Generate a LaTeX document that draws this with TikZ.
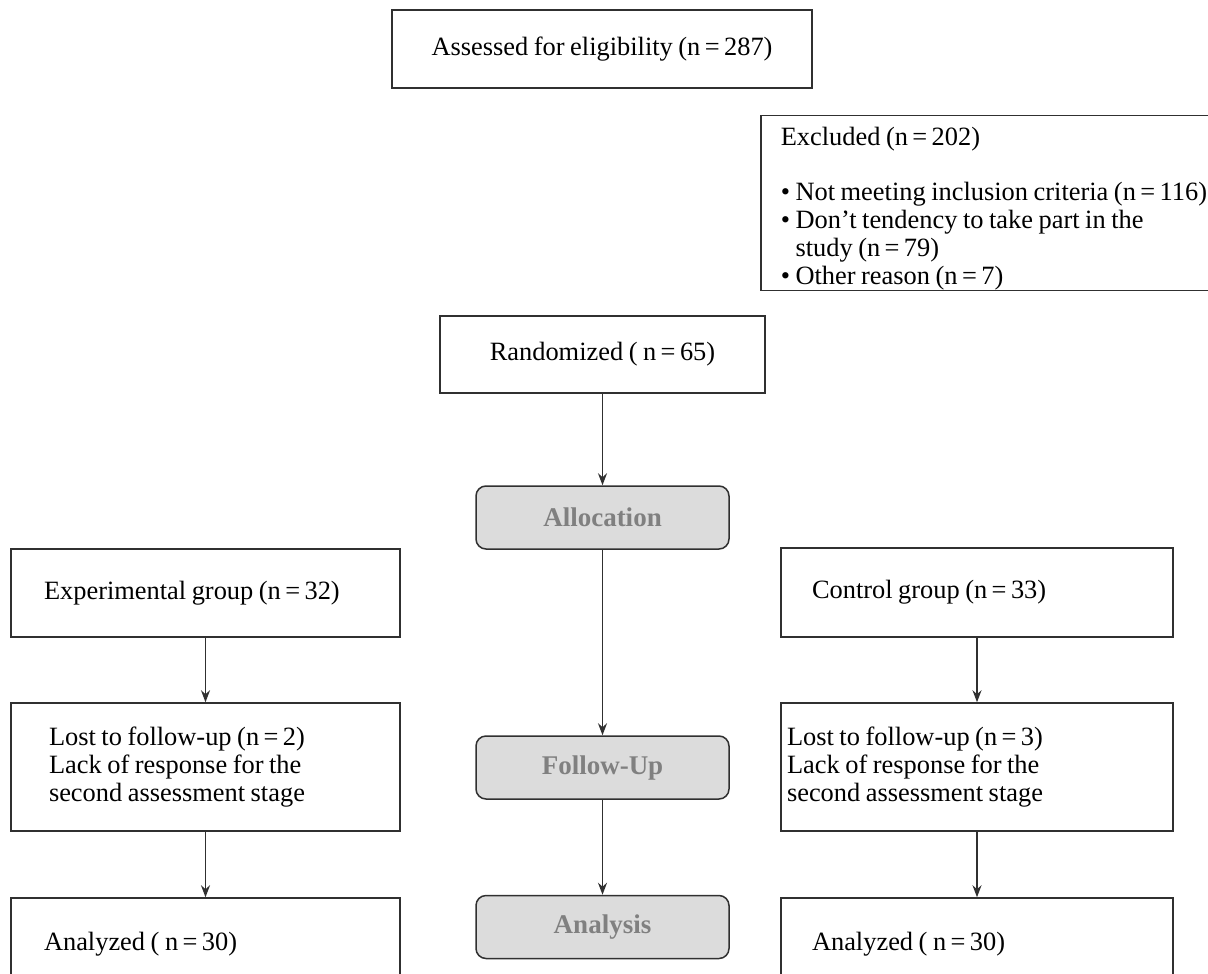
\documentclass[tikz,border=0pt]{standalone}
\usepackage{fontspec}
\setmainfont{Liberation Serif}
\usetikzlibrary{arrows.meta,positioning}
\definecolor{stagefill}{HTML}{DCDCDC}
\definecolor{stagetext}{HTML}{808080}
\definecolor{edge}{HTML}{303030}
\newcommand{\tightspaces}{\spaceskip=0.21em\xspaceskip=0.21em\relax}

\begin{document}
\begin{tikzpicture}[x=0.5pt,y=-0.5pt,
    font=\fontsize{13.2}{14}\selectfont,
    box/.style={draw=edge,line width=0.75pt,inner ysep=0pt,align=flush left,
      execute at begin node=\tightspaces},
    stage/.style={draw=edge,line width=0.75pt,rounded corners=5pt,fill=stagefill,
      text=stagetext,font=\fontsize{13.5}{14}\selectfont\bfseries,
      minimum width=126.5pt,minimum height=31.5pt},
    flow/.style={draw=edge,line width=0.75pt,-{Stealth[length=6pt,width=4.5pt]}}]
  \path[use as bounding box,fill=white] (0,0) rectangle (1208,973);
  \clip (0,0) rectangle (1208,973);

  % enrolment
  \node[box,align=center,minimum width=210pt,minimum height=39pt] (assessed) at (602,49)
    {Assessed for eligibility (n\,=\,287)};
  \node[box,anchor=north west,text width=240pt,inner xsep=10pt,minimum height=86.5pt] (excluded) at (760,115)
    {\rule{0pt}{15pt}Excluded (n\,=\,202)\\[13.5pt]
     • Not meeting inclusion criteria (n\,=\,116)\\
     • Don’t tendency to take part in the\\
     \phantom{• }study (n\,=\,79)\\
     • Other reason (n\,=\,7)};
  \node[box,align=center,minimum width=162.5pt,minimum height=38.5pt] (randomized) at (602.5,354.5)
    {Randomized ( n\,=\,65)};

  % stages
  \node[stage] (allocation) at (602.5,517.5) {Allocation};
  \node[stage] (followup) at (602.5,767.5) {Follow-Up};
  \node[stage] (analysis) at (602.5,927) {Analysis};

  % experimental arm
  \node[box,text width=161.5pt,inner xsep=16.5pt,minimum height=44pt] (expgroup) at (205.5,593)
    {Experimental group (n\,=\,32)};
  \node[box,text width=156.5pt,inner xsep=19pt,minimum height=64pt] (lostexp) at (205.5,767)
    {Lost to follow-up (n\,=\,2)\\Lack of response for the\\second assessment stage};
  \node[box,text width=161.5pt,inner xsep=16.5pt,minimum height=46pt] (anaexp) at (205.5,944)
    {Analyzed ( n\,=\,30)};

  % control arm
  \node[box,text width=165pt,inner xsep=15.5pt,minimum height=44.5pt] (ctlgroup) at (977,592.5)
    {Control group (n\,=\,33)};
  \node[box,text width=190pt,inner xsep=3pt,minimum height=64pt] (lostctl) at (977,767)
    {Lost to follow-up (n\,=\,3)\\Lack of response for the\\second assessment stage};
  \node[box,text width=165pt,inner xsep=15.5pt,minimum height=46pt] (anactl) at (977,944)
    {Analyzed ( n\,=\,30)};

  \draw[flow] (randomized) -- (allocation);
  \draw[flow] (allocation) -- (followup);
  \draw[flow] (followup) -- (analysis);
  \draw[flow] (expgroup) -- (lostexp);
  \draw[flow] (lostexp) -- (anaexp);
  \draw[flow] (ctlgroup) -- (lostctl);
  \draw[flow] (lostctl) -- (anactl);
\end{tikzpicture}
\end{document}
